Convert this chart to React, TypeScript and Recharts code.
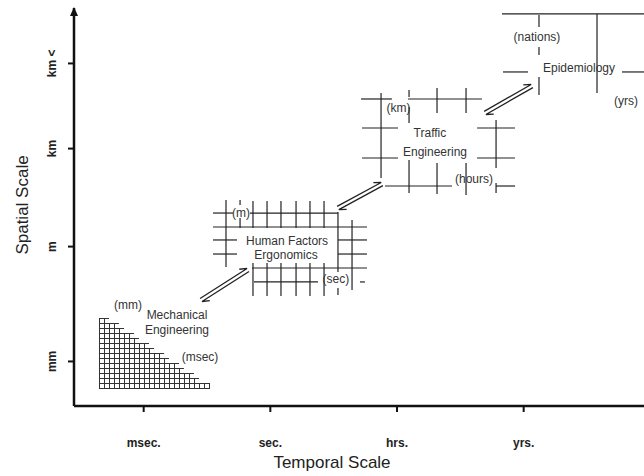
import React from "react";
import {
  ComposedChart,
  Area,
  Scatter,
  XAxis,
  YAxis,
  ReferenceLine,
  ReferenceDot,
  Label,
} from "recharts";

const FONT = "'Liberation Sans', Arial, sans-serif";
const INK = "#222";

// temporal axis (x) and spatial axis (y)
const TIME_TICKS = [1, 2, 3, 4];
const TIME_LABELS = ["msec.", "sec.", "hrs.", "yrs."];
const SPACE_TICKS = [1, 2.16, 3.15, 4.01];
const SPACE_LABELS = ["mm", "m", "km", "km <"];

// mechanical engineering staircase: column edge (t) and column top (s)
const MECH_T = [0.647, 0.687, 0.726, 0.766, 0.805, 0.845, 0.884, 0.924, 0.963, 1.003, 1.042, 1.082,
  1.121, 1.161, 1.2, 1.239, 1.279, 1.318, 1.358, 1.397, 1.437, 1.476, 1.524];
const MECH_S = [1.439, 1.439, 1.388, 1.388, 1.338, 1.287, 1.287, 1.237, 1.186, 1.186, 1.136, 1.085,
  1.085, 1.035, 0.984, 0.984, 0.934, 0.883, 0.883, 0.833, 0.782, 0.782, 0.782];
const MECH_BASE = 0.722;

// grid segments: horizontal [s, t1, t2], vertical [t, s1, s2]
const HF_H = [
  [2.499, 1.547, 1.705], [2.499, 1.839, 2.534],
  [2.358, 1.547, 2.763],
  [2.227, 1.547, 1.737], [2.227, 2.534, 2.763],
  [2.085, 1.547, 1.737], [2.085, 2.534, 2.763],
  [1.944, 1.855, 2.763],
  [1.803, 1.871, 2.376], [1.803, 2.708, 2.747],
];
const HF_V = [
  [1.65, 1.954, 2.631],
  [1.761, 2.58, 2.631], [1.761, 2.348, 2.449],
  [1.863, 2.348, 2.621], [1.863, 1.661, 1.994],
  [1.974, 2.348, 2.621], [1.974, 1.661, 1.994],
  [2.084, 2.348, 2.621], [2.084, 1.661, 1.994],
  [2.203, 2.348, 2.621], [2.203, 1.661, 1.994],
  [2.313, 2.348, 2.621], [2.313, 1.661, 1.994],
  [2.424, 2.348, 2.621], [2.424, 1.661, 1.994],
  [2.534, 1.903, 2.51], [2.534, 1.671, 1.742],
  [2.645, 1.722, 2.429],
];
const TR_H = [
  [3.651, 2.716, 2.96], [3.651, 3.087, 3.671],
  [3.358, 2.724, 3.008], [3.358, 3.632, 3.932],
  [3.055, 2.724, 3.008], [3.055, 3.632, 3.932],
  [2.772, 2.905, 3.434], [2.772, 3.782, 3.932],
];
const TR_V = [
  [2.874, 2.853, 3.712],
  [3.095, 3.671, 3.742], [3.095, 3.409, 3.57], [3.095, 2.702, 3.035],
  [3.316, 3.51, 3.762], [3.316, 2.692, 3.005],
  [3.545, 3.51, 3.762], [3.545, 2.681, 3.005],
  [3.782, 2.954, 3.439], [3.782, 2.702, 2.803],
];
const EP_H = [
  [4.51, 3.829, 4.95],
  [3.924, 3.837, 4.034], [3.924, 4.776, 4.95],
];
const EP_V = [
  [4.121, 4.378, 4.5], [4.121, 4.095, 4.176], [4.121, 3.691, 3.873],
  [4.579, 3.712, 4.51],
];

// double arrows between the domains: [t1, s1, t2, s2]
const ARROWS = [
  [1.453, 1.621, 1.824, 1.924],
  [2.534, 2.55, 2.882, 2.792],
  [3.695, 3.51, 4.066, 3.782],
];

const LABELS = [
  { t: 0.876, s: 1.57, text: "(mm)" },
  { t: 1.263, s: 1.469, text: "Mechanical" },
  { t: 1.263, s: 1.318, text: "Engineering" },
  { t: 1.445, s: 1.045, text: "(msec)" },
  { t: 1.768, s: 2.499, text: "(m)" },
  { t: 2.132, s: 2.217, text: "Human Factors" },
  { t: 2.124, s: 2.075, text: "Ergonomics" },
  { t: 2.518, s: 1.833, text: "(sec)" },
  { t: 3.012, s: 3.56, text: "(km)" },
  { t: 3.26, s: 3.308, text: "Traffic" },
  { t: 3.3, s: 3.116, text: "Engineering" },
  { t: 3.608, s: 2.843, text: "(hours)" },
  { t: 4.105, s: 4.277, text: "(nations)" },
  { t: 4.437, s: 3.964, text: "Epidemiology" },
  { t: 4.808, s: 3.631, text: "(yrs)" },
];

const mechData = MECH_T.map((t, i) => ({ t, s: MECH_S[i] }));
const hSegs = [...HF_H, ...TR_H, ...EP_H];
const vSegs = [...HF_V, ...TR_V, ...EP_V];

function DoubleArrow(props: any) {
  const { x1, y1, x2, y2 } = props;
  const dx = x2 - x1;
  const dy = y2 - y1;
  const len = Math.hypot(dx, dy) || 1;
  const ux = dx / len;
  const uy = dy / len;
  const nx = uy;
  const ny = -ux;
  const g = 1.8, b = 7, w = 3.5;
  const a1 = [x1 + nx * g, y1 + ny * g], a2 = [x2 + nx * g, y2 + ny * g];
  const b1 = [x1 - nx * g, y1 - ny * g], b2 = [x2 - nx * g, y2 - ny * g];
  return (
    <g stroke={INK} strokeWidth={1.3} fill="none">
      <path d={`M${a1[0]},${a1[1]}L${a2[0]},${a2[1]}L${a2[0] - ux * b + nx * w},${a2[1] - uy * b + ny * w}`} />
      <path d={`M${b2[0]},${b2[1]}L${b1[0]},${b1[1]}L${b1[0] + ux * b - nx * w},${b1[1] + uy * b - ny * w}`} />
    </g>
  );
}

function TimeTick(props: any) {
  const { x, y, payload } = props;
  const i = TIME_TICKS.indexOf(payload.value);
  return (
    <text x={x} y={y + 29} textAnchor="middle" dominantBaseline="central"
      fontFamily={FONT} fontSize={12} fontWeight="bold" fill={INK}>
      {TIME_LABELS[i]}
    </text>
  );
}

function SpaceTick(props: any) {
  const { x, y, payload } = props;
  const i = SPACE_TICKS.indexOf(payload.value);
  const tx = x - 14;
  return (
    <text x={tx} y={y} transform={`rotate(-90, ${tx}, ${y})`} textAnchor="middle"
      dominantBaseline="central" fontFamily={FONT} fontSize={12} fontWeight="bold" fill={INK}>
      {SPACE_LABELS[i]}
    </text>
  );
}

export default function App() {
  return (
    <div style={{ position: "absolute", left: 0, top: 0, width: 644, height: 476, background: "#fff" }}>
      <ComposedChart width={644} height={476} data={mechData}
        margin={{ top: 8, right: 0, bottom: 0, left: 30 }}>
        <defs>
          <pattern id="mechGrid" patternUnits="userSpaceOnUse" x={99} y={388} width={5} height={5}>
            <rect width={5} height={5} fill="#fff" />
            <rect x={0} y={0} width={5} height={1} fill="#333" />
            <rect x={0} y={0} width={1} height={5} fill="#333" />
          </pattern>
        </defs>
        <XAxis type="number" dataKey="t" domain={[0.45, 4.95]} ticks={TIME_TICKS} interval={0}
          tick={<TimeTick />} tickSize={6} tickMargin={2} height={70}
          axisLine={{ stroke: "#111", strokeWidth: 2.5 }} tickLine={{ stroke: "#111", strokeWidth: 2 }}>
          <Label content={(p: any) => {
            const vb = p.viewBox || { x: 74, y: 406 };
            return (
              <text x={vb.x + 258} y={vb.y + 62} textAnchor="middle" fontFamily={FONT}
                fontSize={17} fill={INK}>Temporal Scale</text>
            );
          }} />
        </XAxis>
        <YAxis type="number" dataKey="s" domain={[0.55, 4.57]} ticks={SPACE_TICKS} interval={0}
          tick={<SpaceTick />} tickSize={6} tickMargin={2} width={44}
          axisLine={{ stroke: "#111", strokeWidth: 2.5 }} tickLine={{ stroke: "#111", strokeWidth: 2 }}>
          <Label content={(p: any) => {
            const vb = p.viewBox || { x: 30, y: 8 };
            const cx = vb.x - 8;
            const cy = vb.y + 197;
            return (
              <text x={cx} y={cy} transform={`rotate(-90, ${cx}, ${cy})`} textAnchor="middle"
                dominantBaseline="central" fontFamily={FONT} fontSize={17} fill={INK}>Spatial Scale</text>
            );
          }} />
        </YAxis>
        <Area type="stepAfter" dataKey="s" baseValue={MECH_BASE} fill="url(#mechGrid)" fillOpacity={1}
          stroke="none" dot={false} activeDot={false} isAnimationActive={false} />
        {hSegs.map((d, i) => (
          <ReferenceLine key={`h${i}`} segment={[{ x: d[1], y: d[0] }, { x: d[2], y: d[0] }]}
            stroke={INK} strokeWidth={1.2} ifOverflow="visible" />
        ))}
        {vSegs.map((d, i) => (
          <ReferenceLine key={`v${i}`} segment={[{ x: d[0], y: d[1] }, { x: d[0], y: d[2] }]}
            stroke={INK} strokeWidth={1.2} ifOverflow="visible" />
        ))}
        {ARROWS.map((d, i) => (
          <ReferenceLine key={`a${i}`} segment={[{ x: d[0], y: d[1] }, { x: d[2], y: d[3] }]}
            ifOverflow="visible" shape={(p: any) => <DoubleArrow {...p} />} />
        ))}
        <ReferenceDot x={0.45} y={4.57} ifOverflow="visible"
          shape={(p: any) => (
            <path d={`M${p.cx},${p.cy - 1}L${p.cx - 4},${p.cy + 8}L${p.cx + 4},${p.cy + 8}Z`} fill="#111" />
          )} />
        <Scatter data={LABELS} isAnimationActive={false}
          shape={(p: any) => (
            <text x={p.cx} y={p.cy} textAnchor="middle" dominantBaseline="central"
              fontFamily={FONT} fontSize={12} fill="#333">{p.payload.text}</text>
          )} />
      </ComposedChart>
    </div>
  );
}
